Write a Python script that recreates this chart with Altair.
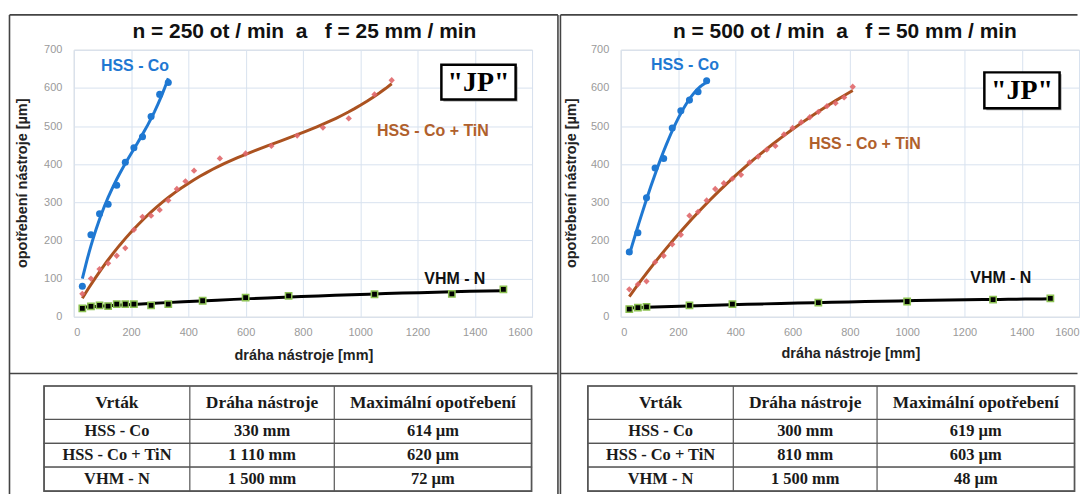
import altair as alt
import pandas as pd

# ---------------- data ----------------
# left chart: n = 250 ot/min, f = 25 mm/min
L_hss_x = [30, 60, 90, 120, 150, 180, 210, 240, 270, 300, 330]
L_hss_y = [80, 215, 270, 295, 345, 405, 443, 472, 525, 583, 614]
L_tin_x = [30, 60, 90, 120, 150, 180, 210, 240, 270, 300, 330, 360, 390, 420,
           510, 600, 690, 780, 870, 960, 1050, 1110]
L_tin_y = [60, 100, 125, 140, 160, 180, 228, 262, 265, 280, 305, 335, 355, 383,
           415, 428, 448, 475, 496, 520, 583, 620]
L_vhm_x = [30, 60, 90, 120, 150, 180, 210, 270, 330, 450, 600, 750, 1050, 1320, 1500]
L_vhm_y = [22, 27, 30, 28, 33, 33, 33, 30, 33, 42, 50, 55, 59, 60, 72]

# right chart: n = 500 ot/min, f = 50 mm/min
R_hss_x = [30, 60, 90, 120, 150, 180, 210, 240, 270, 300]
R_hss_y = [170, 220, 312, 390, 415, 495, 540, 568, 590, 619]
R_tin_x = [30, 60, 90, 120, 150, 180, 210, 240, 270, 300, 330, 360, 390, 420,
           450, 480, 510, 540, 570, 600, 630, 660, 690, 720, 750, 780, 810]
R_tin_y = [72, 85, 93, 143, 160, 190, 215, 265, 275, 305, 335, 350, 362, 372,
           405, 420, 438, 448, 478, 495, 510, 523, 537, 552, 560, 575, 603]
R_vhm_x = [30, 60, 90, 240, 390, 690, 1000, 1300, 1500]
R_vhm_y = [20, 24, 26, 30, 33, 37, 40, 45, 48]

titles = ["n = 250 ot / min\u00a0\u00a0a\u00a0\u00a0\u00a0f = 25 mm / min",
          "n = 500 ot / min\u00a0\u00a0a\u00a0\u00a0\u00a0f = 50 mm / min"]
x_title = "dráha nástroje [mm]"
y_title = "opotřebení nástroje [µm]"
badge = '"JP"'
x_ticks = [0, 200, 400, 600, 800, 1000, 1200, 1400, 1600]
y_ticks = [0, 100, 200, 300, 400, 500, 600, 700]

tab_header = ["Vrták", "Dráha nástroje", "Maximální opotřebení"]
tab_drills = ["HSS - Co", "HSS - Co + TiN", "VHM - N"]
L_tab_path = ["330 mm", "1 110 mm", "1 500 mm"]
L_tab_wear = ["614 µm", "620 µm", "72 µm"]
R_tab_path = ["300 mm", "810 mm", "1 500 mm"]
R_tab_wear = ["619 µm", "603 µm", "48 µm"]

# ---------------- styling ----------------
W, H = 460, 268
SANS = "Liberation Sans"
SERIF = "Liberation Serif"
BLUE = "#1f78d2"
BROWN = "#ab5220"
BROWN_TXT = "#b0602c"
PINK = "#e0676a"
GREEN = "#8cc152"
FRAME = "#444444"
one = pd.DataFrame({"k": [0]})


def rule(x1, x2, y1, y2, color=FRAME, w=1.6):
    return alt.Chart(one).mark_rule(color=color, strokeWidth=w).encode(
        x=alt.value(x1), x2=alt.value(x2), y=alt.value(y1), y2=alt.value(y2))


def box(x1, x2, y1, y2, **kw):
    return alt.Chart(one).mark_rect(**kw).encode(
        x=alt.value(x1), x2=alt.value(x2), y=alt.value(y1), y2=alt.value(y2))


def label(txt, x, y, **kw):
    return alt.Chart(one).mark_text(**kw).encode(
        x=alt.value(x), y=alt.value(y), text=alt.value(txt))


xs = alt.Scale(domain=[0, 1600], nice=False)
ys = alt.Scale(domain=[0, 700], nice=False)
xax = alt.Axis(values=x_ticks, title=None, grid=True, format="d")
yax = alt.Axis(values=y_ticks, title=None, grid=True, format="d")


def series(xv, yv, order, point_mark, line_color):
    df = pd.DataFrame({"x": xv, "y": yv})
    enc = dict(x=alt.X("x:Q", scale=xs, axis=xax), y=alt.Y("y:Q", scale=ys, axis=yax))
    if order == 1:
        reg = alt.Chart(df).transform_regression("x", "y", method="linear")
    else:
        reg = alt.Chart(df).transform_regression("x", "y", method="poly", order=order)
    line = reg.mark_line(color=line_color, strokeWidth=3).encode(**enc)
    pts = point_mark(alt.Chart(df)).encode(**enc)
    return [line, pts]


def table(path, wear, edges, rows):
    left, c1, c2, right = edges
    top, hb, bottom = rows
    df = pd.DataFrame({"drill": tab_drills, "path": path, "wear": wear})
    ysc = alt.Scale(domain=tab_drills, range=[hb, bottom], paddingInner=0, paddingOuter=0)
    yb = alt.Y("drill:N", scale=ysc, axis=None)
    yc = alt.Y("drill:N", scale=ysc, axis=None, bandPosition=0.5)
    cells = alt.Chart(df).mark_rect(fill="white", stroke="#555555", strokeWidth=1.2).encode(
        y=yb, x=alt.value(left), x2=alt.value(right))
    txt = dict(font=SERIF, fontWeight="bold", fontSize=16.5, color="#1a1a1a")
    cols = []
    for fld, a, b in (("drill", left, c1), ("path", c1, c2), ("wear", c2, right)):
        cols.append(alt.Chart(df).mark_text(**txt).encode(
            y=yc, x=alt.value((a + b) / 2), text=f"{fld}:N"))
    head = [box(left, right, top, hb, fill="white", stroke="#555555", strokeWidth=1.2)]
    hx = [(left + c1) / 2, (c1 + c2) / 2, (c2 + right) / 2]
    for h, cx in zip(tab_header, hx):
        head.append(label(h, cx, (top + hb) / 2, font=SERIF, fontWeight="bold",
                          fontSize=17.5, color="#1a1a1a", baseline="middle"))
    lines = [rule(c1, c1, top, bottom, "#555555", 1.2), rule(c2, c2, top, bottom, "#555555", 1.2),
             box(left, right, top, bottom, fill=None, fillOpacity=0, stroke="#555555", strokeWidth=1.6)]
    return alt.layer(cells, *cols, *head, *lines)


def panel(hss, tin, vhm, orders, title, tab, g):
    layers = []
    layers += series(hss[0], hss[1], orders[0],
                     lambda c: c.mark_circle(size=50, color=BLUE, opacity=1), BLUE)
    layers += series(tin[0], tin[1], orders[1],
                     lambda c: c.mark_point(shape="diamond", filled=True, size=40, color=PINK, opacity=0.9), BROWN)
    layers += series(vhm[0], vhm[1], orders[2],
                     lambda c: c.mark_square(size=40, color="black", stroke=GREEN, strokeWidth=1.5, opacity=1), "black")
    plot = alt.layer(*layers)
    tbl = table(tab[0], tab[1], g["tab_x"], g["tab_y"])
    fl, fr, ft, fd, fb = g["frame"]
    deco = [
        rule(fl, fr, ft, ft), rule(fl, fl, ft, fb), rule(fl, fr, fd, fd),
    ]
    if g.get("right_edge"):
        deco.append(rule(fr, fr, ft, fb))
    jx1, jx2, jy1, jy2 = g["jp"]
    deco += [
        box(jx1 + 2, jx2 + 2, jy1 + 2, jy2 + 2, fill="#9a9a9a"),
        box(jx1, jx2, jy1, jy2, fill="white", stroke="black", strokeWidth=2.5),
        label(badge, (jx1 + jx2) / 2, (jy1 + jy2) / 2 + 1, font=SERIF, fontWeight="bold",
              fontSize=28, color="black", baseline="middle"),
        label(title, g["title"][0], g["title"][1], font=SANS, fontWeight="bold", fontSize=21,
              color="#111111", baseline="alphabetic"),
        label(y_title, g["ytitle"][0], g["ytitle"][1], font=SANS, fontWeight="bold", fontSize=14.5,
              color="#222222", angle=270, baseline="middle"),
        label(x_title, g["xtitle"][0], g["xtitle"][1], font=SANS, fontWeight="bold", fontSize=14.5,
              color="#222222", baseline="middle"),
        label(tab_drills[0], g["ann"][0][0], g["ann"][0][1], font=SANS, fontWeight="bold",
              fontSize=16, color=BLUE, baseline="middle"),
        label(tab_drills[1], g["ann"][1][0], g["ann"][1][1], font=SANS, fontWeight="bold",
              fontSize=16, color=BROWN_TXT, baseline="middle"),
        label(tab_drills[2], g["ann"][2][0], g["ann"][2][1], font=SANS, fontWeight="bold",
              fontSize=16, color="#111111", baseline="middle"),
    ]
    return alt.layer(plot, tbl, *deco).resolve_scale(y="independent").properties(width=W, height=H)


geomL = dict(tab_x=(-29.8, 116.5, 261.5, 459.5), tab_y=(337.5, 371, 443),
             frame=(-64.5, 486, -35, 325, 446), right_edge=True,
             jp=(369, 443.5, 15, 50), title=(231.5, -12), ytitle=(-51, 134), xtitle=(231, 307.5),
             ann=[(61.5, 16), (360.5, 82), (382.5, 230)])
geomR = dict(tab_x=(-33, 113, 257.3, 455.5), tab_y=(337.5, 371, 443),
             frame=(-60.5, 458.5, -35, 325, 446), right_edge=False,
             jp=(365, 440.5, 22.7, 58.7), title=(225, -12), ytitle=(-48.7, 134), xtitle=(231, 305),
             ann=[(64.5, 15.5), (245, 95), (381.5, 229)])

left = panel((L_hss_x, L_hss_y), (L_tin_x, L_tin_y), (L_vhm_x, L_vhm_y), (3, 3, 2),
             titles[0], (L_tab_path, L_tab_wear), geomL)
right = panel((R_hss_x, R_hss_y), (R_tin_x, R_tin_y), (R_vhm_x, R_vhm_y), (3, 3, 2),
              titles[1], (R_tab_path, R_tab_wear), geomR)

chart = alt.hconcat(left, right, spacing=89, bounds="flush").properties(
    padding={"left": 0, "top": 4, "right": 0, "bottom": 0}
).configure_view(stroke="#d4d4d4", strokeWidth=1).configure_axis(
    domain=False, ticks=False, labelFont=SANS, labelFontSize=11, labelColor="#9a9a9a",
    gridColor="#d8e2ef", gridWidth=1
).configure_axisX(labelPadding=10).configure_axisY(labelPadding=12)

chart.save("out.html", embed_options={"renderer": "svg", "actions": False})
